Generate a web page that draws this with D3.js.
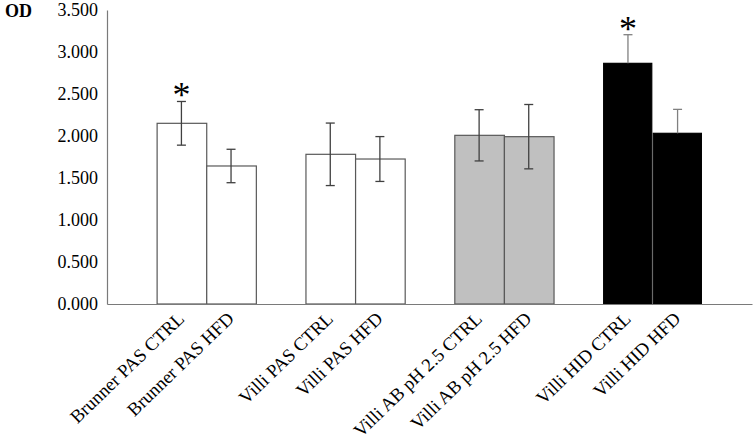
<!DOCTYPE html>
<html><head><meta charset="utf-8">
<script src="https://cdn.jsdelivr.net/npm/d3@7"></script>
<style>body{margin:0;background:#fff}svg{display:block}</style>
</head><body>
<svg id="c" width="755" height="442"></svg>
<script>
const categories = ["Brunner PAS CTRL","Brunner PAS HFD","Villi PAS CTRL","Villi PAS HFD","Villi AB pH 2.5 CTRL","Villi AB pH 2.5 HFD","Villi HID CTRL","Villi HID HFD"];
const values = [2.151, 1.643, 1.782, 1.726, 2.008, 1.992, 2.865, 2.032];
const errors = [0.260, 0.199, 0.372, 0.267, 0.305, 0.383, 0.341, 0.285];
const significant = [true, false, false, false, false, false, true, false];
const groupOf = [0,0,1,1,2,2,3,3];
const yTicks = [0,0.5,1,1.5,2,2.5,3,3.5];
const yLabel = "OD";

const fills = ["#ffffff","#ffffff","#c0c0c0","#000000"];
const strokes = ["#595959","#595959","#595959","#000000"];
const errColors = ["#404040","#404040","#404040","#808080"];

const svg = d3.select("#c");
const mLeft = 107, mRight = 752, mTop = 10, mBottom = 304;
const font = "'Liberation Serif','Times New Roman',serif";

const slots = [];
const nGroups = 4;
for (let g = 0; g < nGroups; g++) {
  slots.push("_s" + g);
  categories.forEach((c, i) => { if (groupOf[i] === g) slots.push(c); });
}
slots.push("_s" + nGroups);

const x = d3.scaleBand().domain(slots).range([mLeft, mRight]).padding(0);
const y = d3.scaleLinear().domain([0, 3.5]).range([mBottom, mTop]);

const data = categories.map((c, i) => ({c, v: values[i], e: errors[i], s: significant[i], g: groupOf[i]}));
const cx = d => x(d.c) + x.bandwidth()/2;

svg.append("g").selectAll("rect").data(data).join("rect")
  .attr("x", d => x(d.c) + 0.5)
  .attr("y", d => y(d.v))
  .attr("width", d => x.bandwidth() - (d.g === 3 ? 1.5 : 0))
  .attr("height", d => mBottom - y(d.v))
  .attr("fill", d => fills[d.g])
  .attr("stroke", d => strokes[d.g])
  .attr("stroke-width", 1.2);

const eb = svg.append("g").selectAll("g").data(data).join("g")
  .attr("stroke", d => errColors[d.g]).attr("stroke-width", 1.3);
eb.append("line")
  .attr("x1", cx).attr("x2", cx)
  .attr("y1", d => y(d.v + d.e)).attr("y2", d => d.g === 3 ? y(d.v) : y(d.v - d.e));
eb.append("line")
  .attr("x1", d => cx(d) - 4.5).attr("x2", d => cx(d) + 4.5)
  .attr("y1", d => y(d.v + d.e)).attr("y2", d => y(d.v + d.e));
eb.filter(d => d.g !== 3).append("line")
  .attr("x1", d => cx(d) - 4.5).attr("x2", d => cx(d) + 4.5)
  .attr("y1", d => y(d.v - d.e)).attr("y2", d => y(d.v - d.e));

svg.append("g").selectAll("text").data(data.filter(d => d.s)).join("text")
  .attr("x", cx)
  .attr("y", d => y(d.v + d.e) + 6)
  .attr("text-anchor", "middle")
  .attr("font-family", font).attr("font-size", 36)
  .attr("fill", "#000")
  .text("*");

const yAxis = svg.append("g").attr("transform", `translate(${mLeft},0)`)
  .call(d3.axisLeft(y).tickValues(yTicks).tickSize(0).tickPadding(9).tickFormat(d3.format(".3f")));
yAxis.select(".domain").attr("stroke", "#7a7a7a").attr("stroke-width", 1.2);
yAxis.selectAll("text").attr("font-family", font).attr("font-size", 18).attr("fill", "#000");

const xAxis = svg.append("g").attr("transform", `translate(0,${mBottom})`)
  .call(d3.axisBottom(x).tickValues(categories).tickSize(0).tickFormat(d => d));
xAxis.select(".domain").attr("stroke", "#7a7a7a").attr("stroke-width", 1.2);
xAxis.selectAll(".tick text")
  .attr("font-family", font).attr("font-size", 18.6).attr("fill", "#000")
  .attr("text-anchor", "end")
  .attr("dy", 0).attr("y", 0)
  .attr("transform", "translate(4,16) rotate(-44)");

svg.append("text").attr("x", 5).attr("y", 17)
  .attr("font-family", font).attr("font-size", 18).attr("font-weight", "bold")
  .attr("fill", "#000").text(yLabel);
</script>
</body></html>
